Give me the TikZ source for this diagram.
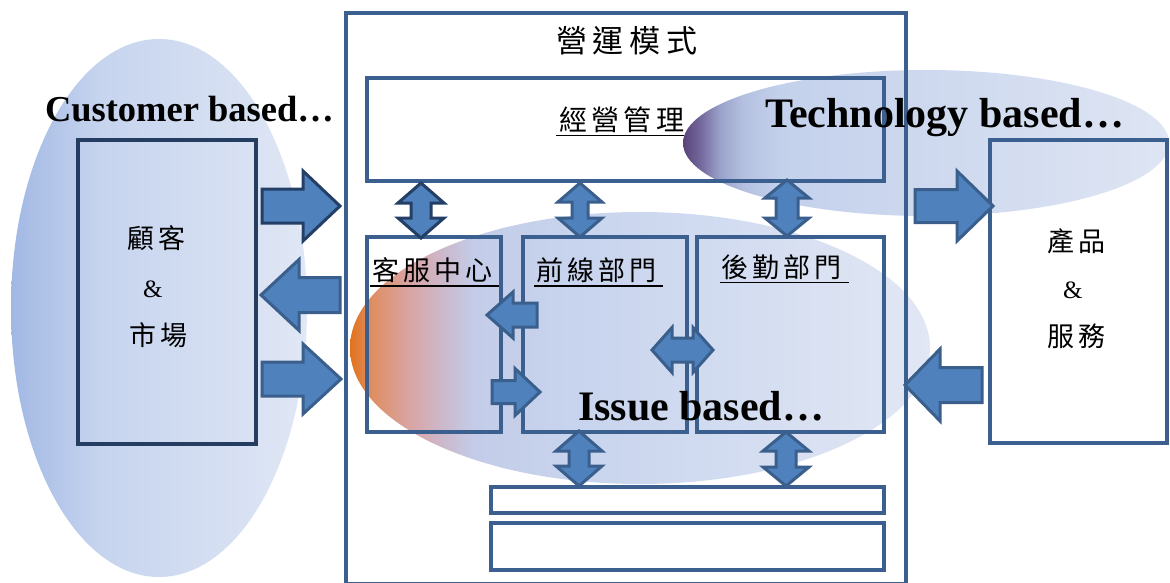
\documentclass[tikz,border=0pt]{standalone}
\usepackage{fontspec}
\setmainfont{Liberation Serif}
\newfontfamily\cjkfont[LetterSpace=16]{Noto Sans CJK TC}
\newfontfamily\cjktitle[LetterSpace=19]{Noto Sans CJK TC}
\usetikzlibrary{calc}

% palette
\definecolor{framecol}{HTML}{3B5F8E}
\definecolor{custline}{HTML}{243D60}
\definecolor{arrowfill}{HTML}{4F81BD}
\definecolor{arrowline}{HTML}{3A5F8D}
\definecolor{arrowdark}{HTML}{243F66}
% customer ellipse
\definecolor{cuA}{HTML}{A2B8E4}
\definecolor{cuB}{HTML}{C6D4EE}
\definecolor{cuC}{HTML}{E0E7F5}
% technology ellipse
\definecolor{teA}{HTML}{5A4478}
\definecolor{teB}{HTML}{72669A}
\definecolor{teC}{HTML}{9AA2CA}
\definecolor{teD}{HTML}{B4C0E0}
\definecolor{teE}{HTML}{C4D1EC}
\definecolor{teF}{HTML}{DEE5F3}
% issue ellipse
\definecolor{isA}{HTML}{E3711D}
\definecolor{isB}{HTML}{DF8D5E}
\definecolor{isC}{HTML}{D9A3A0}
\definecolor{isD}{HTML}{CDB7C9}
\definecolor{isE}{HTML}{C3CCE8}
\definecolor{isF}{HTML}{C9D5EE}
\definecolor{isG}{HTML}{E1E7F4}

\pgfdeclarehorizontalshading{custshade}{100bp}{color(0bp)=(cuA); color(25bp)=(cuA); color(40bp)=(cuB); color(75bp)=(cuC); color(100bp)=(cuC)}
\pgfdeclarehorizontalshading{techshade}{100bp}{color(0bp)=(teA); color(25bp)=(teA); color(26.7bp)=(teB); color(28.8bp)=(teC); color(31.2bp)=(teD); color(35bp)=(teE); color(75bp)=(teF); color(100bp)=(teF)}
\pgfdeclarehorizontalshading{issueshade}{100bp}{color(0bp)=(isA); color(25bp)=(isA); color(26.7bp)=(isB); color(29.9bp)=(isC); color(32.8bp)=(isD); color(35.6bp)=(isE); color(46bp)=(isF); color(75bp)=(isG); color(100bp)=(isG)}

% single horizontal block arrow: style, tail, tip, head length, shaft half, head half
\newcommand\blockarrow[6]{%
  \path[#1] let \p1=(#2), \p2=(#3), \p3=($(#3)!#4pt!(#2)$) in
    (\x1,\y1+#5pt) -- (\x3,\y1+#5pt) -- (\x3,\y1+#6pt) -- (\x2,\y2)
    -- (\x3,\y1-#6pt) -- (\x3,\y1-#5pt) -- (\x1,\y1-#5pt) -- cycle;}
% vertical double block arrow: style, top tip, bottom tip, head length, shaft half, head half
\newcommand\vdoublearrow[6]{%
  \path[#1] let \p1=(#2), \p2=(#3) in
    (\x1,\y1) -- (\x1+#6pt,\y1-#4pt) -- (\x1+#5pt,\y1-#4pt) -- (\x1+#5pt,\y2+#4pt)
    -- (\x1+#6pt,\y2+#4pt) -- (\x1,\y2) -- (\x1-#6pt,\y2+#4pt) -- (\x1-#5pt,\y2+#4pt)
    -- (\x1-#5pt,\y1-#4pt) -- (\x1-#6pt,\y1-#4pt) -- cycle;}
% horizontal double block arrow: style, left tip, right tip, head length, shaft half, head half
\newcommand\hdoublearrow[6]{%
  \path[#1] let \p1=(#2), \p2=(#3) in
    (\x1,\y1) -- (\x1+#4pt,\y1+#6pt) -- (\x1+#4pt,\y1+#5pt) -- (\x2-#4pt,\y1+#5pt)
    -- (\x2-#4pt,\y1+#6pt) -- (\x2,\y1) -- (\x2-#4pt,\y1-#6pt) -- (\x2-#4pt,\y1-#5pt)
    -- (\x1+#4pt,\y1-#5pt) -- (\x1+#4pt,\y1-#6pt) -- cycle;}

\begin{document}
\begin{tikzpicture}[x=1pt,y=-1pt,
  box/.style={draw=framecol, line width=4.5pt, inner sep=0pt, outer sep=0pt},
  custbox/.style={draw=custline, line width=4.5pt, inner sep=0pt, outer sep=0pt},
  blk/.style={fill=arrowfill, draw=arrowline, line width=3pt, line join=miter},
  blkdark/.style={fill=arrowfill, draw=arrowdark, line width=3pt, line join=miter},
  lbl/.style={inner sep=0pt, outer sep=0pt, anchor=base west, font=\cjkfont\fontsize{27}{27}\selectfont},
  amp/.style={inner sep=0pt, outer sep=0pt, anchor=base west, font=\fontsize{25}{25}\selectfont},
  tag/.style={inner sep=0pt, outer sep=0pt, anchor=base west, font=\bfseries\fontsize{42}{42}\selectfont},
  uline/.style={line width=1.8pt, black}]

\useasboundingbox[fill=white] (0,0) rectangle (1170,583);

% soft focus areas
\shade[shading=custshade] (159,308) ellipse [x radius=148, y radius=269];
\shade[shading=techshade] (926,143) ellipse [x radius=243, y radius=73];
\shade[shading=issueshade] (640,348) ellipse [x radius=290, y radius=136];

% outer frame and blocks
\node[box, minimum width=560pt, minimum height=571pt] (frame) at (626,298.5) {};
\node[box, minimum width=517pt, minimum height=103pt] (mgmt) at (625.5,129.5) {};
\node[box, minimum width=134pt, minimum height=195pt] (svc) at (434,334.5) {};
\node[box, minimum width=164pt, minimum height=195pt] (front) at (605,334.5) {};
\node[box, minimum width=187pt, minimum height=195pt] (back) at (790.5,334.5) {};
\node[box, minimum width=393pt, minimum height=26pt] (bot1) at (687.5,500) {};
\node[box, minimum width=393pt, minimum height=47pt] (bot2) at (687.5,546.5) {};
\node[custbox, minimum width=178pt, minimum height=304pt] (cust) at (167,292) {};
\node[box, minimum width=177pt, minimum height=303pt] (prod) at (1078.5,291.5) {};

% arrow end points
\coordinate (a1s) at (262,206);  \coordinate (a1e) at (340,206);
\coordinate (a2s) at (340,295);  \coordinate (a2e) at (261,295);
\coordinate (a3s) at (262,379);  \coordinate (a3e) at (341,379);
\coordinate (a4s) at (915,206);  \coordinate (a4e) at (993,206);
\coordinate (a5s) at (982,385);  \coordinate (a5e) at (905,385);
\coordinate (a6s) at (537,315);  \coordinate (a6e) at (487,315);
\coordinate (a7s) at (492,392);  \coordinate (a7e) at (540,392);
\coordinate (v1t) at (421,183);  \coordinate (v1b) at (421,238);
\coordinate (v2t) at (580,183);  \coordinate (v2b) at (580,237);
\coordinate (v3t) at (787,180);  \coordinate (v3b) at (787,236);
\coordinate (v4t) at (579,431);  \coordinate (v4b) at (579,486);
\coordinate (v5t) at (786,432);  \coordinate (v5b) at (786,486);
\coordinate (h1l) at (652,350);  \coordinate (h1r) at (713,350);

% customer side
\blockarrow{blkdark}{a1s}{a1e}{37}{17}{35}
\blockarrow{blk}{a2s}{a2e}{38}{17.5}{35.5}
\blockarrow{blk}{a3s}{a3e}{38}{17}{35}
% product side
\blockarrow{blk}{a4s}{a4e}{36}{16.5}{35}
\blockarrow{blk}{a5s}{a5e}{35}{17.5}{36}
% between service centre and front line
\blockarrow{blk}{a6s}{a6e}{26}{12}{23}
\blockarrow{blk}{a7s}{a7e}{25}{11.5}{23.5}
% vertical links
\vdoublearrow{blkdark}{v1t}{v1b}{20}{10}{23}
\vdoublearrow{blk}{v2t}{v2b}{19}{8}{22}
\vdoublearrow{blk}{v3t}{v3b}{18}{11}{22}
\vdoublearrow{blk}{v4t}{v4b}{20}{10}{23}
\vdoublearrow{blk}{v5t}{v5b}{19}{10}{23}
% front line <-> logistics
\hdoublearrow{blk}{h1l}{h1r}{20}{12}{22.5}

% labels
\node[inner sep=0pt, outer sep=0pt, anchor=base west, font=\cjktitle\fontsize{31}{31}\selectfont] (title) at (556,53) {營運模式};
\node[lbl, font=\cjkfont\fontsize{28}{28}\selectfont] (mgmtlbl) at (559,131) {經營管理};
\draw[uline] (556,135.5) -- (684,135.5);
\node[lbl] (svclbl) at (372,280) {客服中心};
\draw[uline] (370,286) -- (499,286);
\node[lbl] (frontlbl) at (536,280) {前線部門};
\draw[uline] (534,286) -- (663,286);
\node[lbl] (backlbl) at (721,277) {後勤部門};
\draw[uline] (720,282.5) -- (849,282.5);

\node[lbl] (cust1) at (127,248) {顧客};
\node[amp] (cust2) at (143,297) {\&};
\node[lbl] (cust3) at (129,345) {市場};
\node[lbl] (prod1) at (1047,251) {產品};
\node[amp] (prod2) at (1063,298) {\&};
\node[lbl] (prod3) at (1047,346) {服務};

\node[tag, font=\bfseries\fontsize{36.5}{36.5}\selectfont] (custtag) at (45,122) {Customer based…};
\node[tag] (techtag) at (765,128) {Technology based…};
\node[tag] (issuetag) at (578,420) {Issue based…};

\end{tikzpicture}
\end{document}
